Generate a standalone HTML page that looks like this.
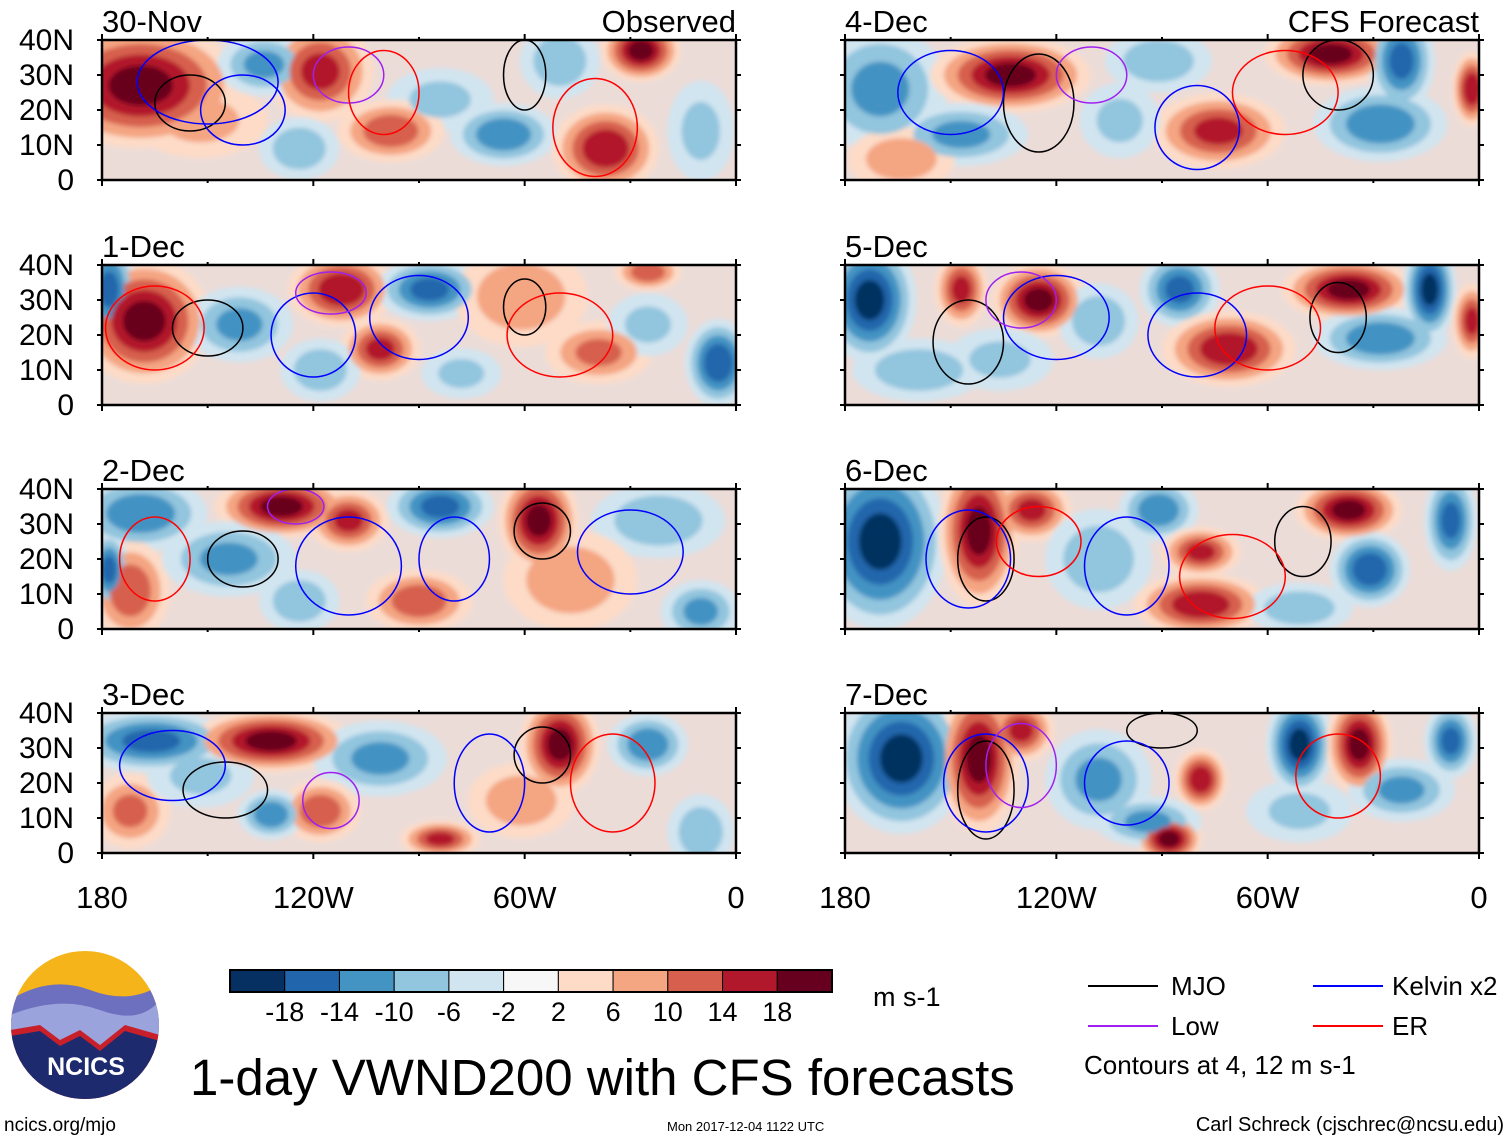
<!DOCTYPE html>
<html><head><meta charset="utf-8">
<style>
html,body{margin:0;padding:0;background:#fff;}
body{width:1510px;height:1141px;overflow:hidden;font-family:"Liberation Sans",sans-serif;}
svg text{font-family:"Liberation Sans",sans-serif;}
</style></head>
<body>
<svg id="chart" width="1510" height="1141" viewBox="0 0 1510 1141" xmlns="http://www.w3.org/2000/svg">
<g id="panels"></g>
<g id="static">
  <g id="colorbar"></g>
  <text x="873" y="1006" font-size="27">m s-1</text>
  <g>
    <line x1="1088" y1="986" x2="1158" y2="986" stroke="#000" stroke-width="2"/>
    <text x="1171" y="995" font-size="26">MJO</text>
    <line x1="1088" y1="1026" x2="1158" y2="1026" stroke="#a020f0" stroke-width="2"/>
    <text x="1171" y="1035" font-size="26">Low</text>
    <line x1="1313" y1="986" x2="1383" y2="986" stroke="#0000ff" stroke-width="2"/>
    <text x="1392" y="995" font-size="26">Kelvin x2</text>
    <line x1="1313" y1="1026" x2="1383" y2="1026" stroke="#ff0000" stroke-width="2"/>
    <text x="1392" y="1035" font-size="26">ER</text>
    <text x="1084" y="1074" font-size="26">Contours at 4, 12 m s-1</text>
  </g>
  <text x="190" y="1095" font-size="51">1-day VWND200 with CFS forecasts</text>
  <text x="4" y="1131" font-size="19">ncics.org/mjo</text>
  <text x="667" y="1131" font-size="13">Mon 2017-12-04 1122 UTC</text>
  <text x="1504" y="1131" font-size="20" text-anchor="end">Carl Schreck (cjschrec@ncsu.edu)</text>
  <g>
    <defs><clipPath id="logoclip"><circle cx="85" cy="1025" r="74"/></clipPath></defs>
    <g clip-path="url(#logoclip)">
      <rect x="10" y="950" width="150" height="150" fill="#f4b41a"/>
      <path d="M10 1000 Q50 975 90 990 T160 985 L160 1100 L10 1100Z" fill="#6d6fbf"/>
      <path d="M10 1015 Q60 995 100 1010 T160 1000 L160 1100 L10 1100Z" fill="#9aa3dc"/>
      <path d="M10 1030 L40 1025 L60 1040 L80 1030 L100 1045 L125 1025 L160 1035 L160 1100 L10 1100Z" fill="#c8202a"/>
      <path d="M10 1036 L40 1031 L60 1046 L80 1036 L100 1051 L125 1031 L160 1041 L160 1100 L10 1100Z" fill="#1d2a6e"/>
    </g>
    <text x="86" y="1075" font-size="25" font-weight="bold" fill="#fff" text-anchor="middle">NCICS</text>
  </g>
</g>
</svg>
<script>
// ---- data ----
const panelTitles = ["30-Nov","1-Dec","2-Dec","3-Dec","4-Dec","5-Dec","6-Dec","7-Dec"];
const levels = [-18,-14,-10,-6,-2,2,6,10,14,18];
const levelColors = ["#053061","#2166ac","#4393c3","#92c5de","#d1e5f0","#f7f7f7","#fddbc7","#f4a582","#d6604d","#b2182b","#67001f"];
const colorbarLabels = ["-18","-14","-10","-6","-2","2","6","10","14","18"];
const latTicks = [40,30,20,10,0];
const latLabels = ["40N","30N","20N","10N","0"];
const lonTicks = [-180,-120,-60,0];
const lonLabels = ["180","120W","60W","0"];
// blobs: [lon, lat, lonRadius, latRadius, value]
const field30Nov = [[-152,17,10,6,6],[-84,23,8,5,-6],[-169,27,15,10,18],[-118,31,8,8,14],[-134,33,7,5,-10],[-98,14,8,5,12],[-66,13,8,5,-12],[-37,9,8,7,16],[-27,37,6,5,18],[-124,9,6,5,-8],[-50,34,6,6,-8],[-10,14,5,8,-6]];
const field1Dec = [[-168,24,10,10,18],[-112,33,8,6,16],[-178,33,4,8,-14],[-87,33,8,5,-14],[-101,16,6,5,14],[-141,23,8,6,-10],[-118,10,6,5,-8],[-61,31,10,8,8],[-39,15,8,5,10],[-5,12,5,7,-16],[-25,38,5,3,12],[-78,9,6,4,-6],[-25,23,6,5,-6]];
const field2Dec = [[-169,33,10,6,-12],[-129,35,10,5,18],[-110,31,6,5,14],[-84,35,8,5,-14],[-56,31,6,8,18],[-22,31,10,6,-8],[-172,11,6,8,12],[-144,20,10,6,-10],[-124,8,6,5,-8],[-90,8,8,5,12],[-47,14,10,8,8],[-10,5,6,5,-10],[-178,17,3,6,-14]];
const field3Dec = [[-166,32,12,5,-14],[-132,32,12,5,18],[-101,27,10,6,-10],[-50,31,6,8,18],[-25,31,6,5,-12],[-172,12,6,6,10],[-118,12,6,5,12],[-132,11,5,4,-12],[-84,4,6,3,14],[-152,22,8,5,-6],[-10,6,5,6,-8],[-61,15,8,6,8]];
const field4Dec = [[-170,26,10,10,-10],[-133,30,12,6,18],[-91,34,8,5,-8],[-42,36,10,5,18],[-22,34,5,8,-14],[-28,16,10,6,-12],[-74,14,10,6,14],[-147,13,10,5,-10],[-2,26,3,6,16],[-164,6,8,5,8],[-102,17,6,6,-6]];
const field5Dec = [[-173,30,7,10,-18],[-147,33,4,6,14],[-125,30,7,6,18],[-108,24,6,6,-8],[-85,33,6,6,-14],[-71,16,10,6,16],[-37,33,10,5,18],[-14,33,4,8,-18],[-28,19,10,5,-12],[-159,10,10,5,-8],[-2,24,3,6,14],[-136,13,8,5,-6]];
const field6Dec = [[-170,25,10,14,-18],[-142,28,6,12,18],[-127,34,6,5,14],[-108,20,8,8,-8],[-91,34,6,5,-12],[-79,22,6,4,14],[-79,7,10,5,16],[-37,34,8,5,18],[-31,17,6,6,-16],[-8,31,4,8,-14],[-51,6,8,4,-8]];
const field7Dec = [[-164,27,10,12,-18],[-142,27,6,12,18],[-130,35,5,5,14],[-108,21,8,8,-10],[-79,21,4,5,16],[-88,4,5,4,18],[-94,9,8,4,-10],[-51,31,5,8,-18],[-34,31,5,8,18],[-8,32,4,6,-14],[-22,18,8,5,-10],[-51,12,8,5,-6]];
const fields = [field30Nov,field1Dec,field2Dec,field3Dec,field4Dec,field5Dec,field6Dec,field7Dec];
// contours: [lon, lat, lonRadius, latRadius, type]  type: 0 MJO,1 Low,2 Kelvin,3 ER
const contours30Nov = [[-155,22,10,8,0],[-60,30,6,10,0],[-140,20,12,10,2],[-150,28,20,12,2],[-110,30,10,8,1],[-40,15,12,14,3],[-100,25,10,12,3]];
const contours1Dec = [[-150,22,10,8,0],[-60,28,6,8,0],[-165,22,14,12,3],[-120,20,12,12,2],[-90,25,14,12,2],[-115,32,10,6,1],[-50,20,15,12,3]];
const contours2Dec = [[-140,20,10,8,0],[-55,28,8,8,0],[-165,20,10,12,3],[-110,18,15,14,2],[-80,20,10,12,2],[-125,35,8,5,1],[-30,22,15,12,2]];
const contours3Dec = [[-145,18,12,8,0],[-55,28,8,8,0],[-160,25,15,10,2],[-115,15,8,8,1],[-70,20,10,14,2],[-35,20,12,14,3]];
const contours4Dec = [[-125,22,10,14,0],[-40,30,10,10,0],[-150,25,15,12,2],[-80,15,12,12,2],[-110,30,10,8,1],[-55,25,15,12,3]];
const contours5Dec = [[-145,18,10,12,0],[-40,25,8,10,0],[-120,25,15,12,2],[-80,20,14,12,2],[-130,30,10,8,1],[-60,22,15,12,3]];
const contours6Dec = [[-140,20,8,12,0],[-50,25,8,10,0],[-145,20,12,14,2],[-100,18,12,14,2],[-125,25,12,10,3],[-70,15,15,12,3]];
const contours7Dec = [[-140,18,8,14,0],[-90,35,10,5,0],[-140,20,12,14,2],[-100,20,12,12,2],[-130,25,10,12,1],[-40,22,12,12,3]];
const contourSets = [contours30Nov,contours1Dec,contours2Dec,contours3Dec,contours4Dec,contours5Dec,contours6Dec,contours7Dec];
const contourColors = ["#000000","#a020f0","#0000ff","#ff0000"];

// ---- layout ----
const NS="http://www.w3.org/2000/svg";
const PW=634, PH=140;
const colX=[102,845], rowY=[40,265,489,713];
function mk(tag,attrs,parent){const e=document.createElementNS(NS,tag);for(const k in attrs)e.setAttribute(k,attrs[k]);parent.appendChild(e);return e;}
function colorFor(v){let i=0;while(i<levels.length&&v>levels[i])i++;return levelColors[i];}
const root=document.getElementById('panels');
const defs=mk('defs',{},root);
mk('filter',{id:'soft'},defs).innerHTML='<feGaussianBlur stdDeviation="2.5"/>';

for(let p=0;p<8;p++){
  const x0=colX[p<4?0:1], y0=rowY[p%4];
  const xs=lon=>x0+(lon+180)/180*PW;
  const ys=lat=>y0+(40-lat)/40*PH;
  const g=mk('g',{},root);
  
  
  const cp=mk('clipPath',{id:'cp'+p},defs);
  mk('rect',{x:x0,y:y0,width:PW,height:PH},cp);
  const inner=mk('g',{'clip-path':'url(#cp'+p+')'},g);
  mk('rect',{x:x0,y:y0,width:PW,height:PH,fill:'#ecdcd8'},inner);
  const fill=mk('g',{filter:'url(#soft)'},inner);
  // outer halo layers for all blobs first, then cores
  const order=[2,6,10,14,18];
  order.forEach(t=>{
    fields[p].forEach(b=>{
      const [lon,lat,rlon,rlat,v]=b;
      const a=Math.abs(v), s=Math.sign(v);
      if(t>a) return;
      const f=1-(t-2)/(a+2)*0.85;
      const el=mk('ellipse',{cx:xs(lon),cy:ys(lat),rx:rlon/180*PW*f*1.9,ry:rlat/40*PH*f*1.8,fill:colorFor(s*(t+0.5))},fill);
      
      
    });
  });
  contourSets[p].forEach(c=>{
    const [lon,lat,rlon,rlat,t]=c;
    const el=mk('ellipse',{cx:xs(lon),cy:ys(lat),rx:rlon/180*PW,ry:rlat/40*PH,fill:'none',stroke:contourColors[t],'stroke-width':1.5},inner);
    
    
  });
  mk('rect',{x:x0,y:y0,width:PW,height:PH,fill:'none',stroke:'#000','stroke-width':2.5},g);
  for(let lon=-180;lon<=0;lon+=30){
    const len=(lon%60===0)?6:3;
    mk('line',{x1:xs(lon),y1:y0,x2:xs(lon),y2:y0-len,stroke:'#000','stroke-width':2},g);
    mk('line',{x1:xs(lon),y1:y0+PH,x2:xs(lon),y2:y0+PH+len,stroke:'#000','stroke-width':2},g);
  }
  latTicks.forEach((lt,i)=>{
    mk('line',{x1:x0,y1:ys(lt),x2:x0-5,y2:ys(lt),stroke:'#000','stroke-width':2},g);
    mk('line',{x1:x0+PW,y1:ys(lt),x2:x0+PW+5,y2:ys(lt),stroke:'#000','stroke-width':2},g);
    if(p<4){
      const t=mk('text',{x:x0-28,y:ys(lt)+10,'font-size':30,'text-anchor':'end'},g);
      t.textContent=latLabels[i];
      
      
    }
  });
  const tt=mk('text',{x:x0,y:y0-8,'font-size':31},g);
  tt.textContent=panelTitles[p];
  
  
  if(p===0||p===4){
    const rt=mk('text',{x:x0+PW,y:y0-8,'font-size':31,'text-anchor':'end'},g);
    rt.textContent=p===0?'Observed':'CFS Forecast';
    
    
  }
  if(p%4===3){
    lonTicks.forEach((ln,i)=>{
      const t=mk('text',{x:xs(ln),y:908,'font-size':31,'text-anchor':'middle'},g);
      t.textContent=lonLabels[i];
      
      
    });
  }
}
const cb=document.getElementById('colorbar');
const cbx=230, cbw=602/levelColors.length;
levelColors.forEach((c,i)=>{
  const r=mk('rect',{x:cbx+i*cbw,y:970,width:cbw,height:22,fill:c,stroke:'#000','stroke-width':1},cb);
  
  
});
mk('rect',{x:cbx,y:970,width:602,height:22,fill:'none',stroke:'#000','stroke-width':2},cb);
colorbarLabels.forEach((l,i)=>{
  const t=mk('text',{x:cbx+(i+1)*cbw,y:1021,'font-size':27,'text-anchor':'middle'},cb);
  t.textContent=l;
  
  
});
</script>
</body></html>
